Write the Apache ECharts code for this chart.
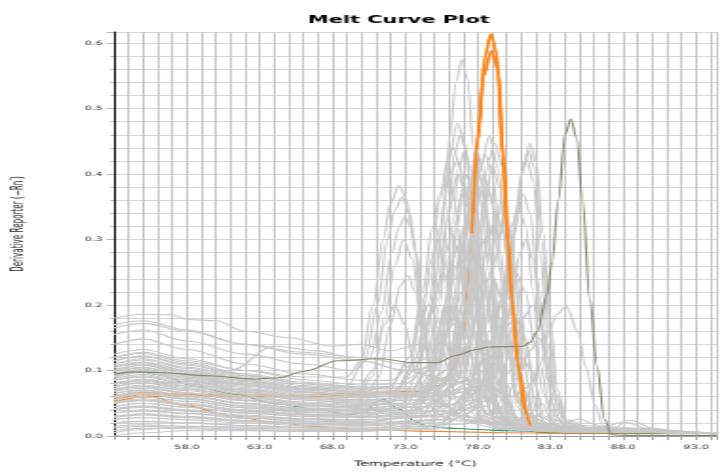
<!DOCTYPE html>
<html>
<head>
<meta charset="utf-8">
<script src="https://cdn.jsdelivr.net/npm/echarts@6.0.0/dist/echarts.min.js"></script>
<style>
  html, body { margin: 0; padding: 0; background: #fff; overflow: hidden; }
  /* the source picture is stretched sideways, so the chart is drawn narrow and widened */
  #chart { width: 380px; height: 473px; transform: scaleX(1.9); transform-origin: 0 0; }
</style>
</head>
<body>
<div id="chart"></div>
<script>
// axis ranges and labels
const tempMin = 53
const tempMax = 94.4
const tempLabelFirst = 58
const tempLabelLast = 93
const derivMax = 0.617

// highlighted wells, [temperature, derivative]
const orangeHigh = [[53,0.058],[55,0.066],[57.5,0.064],[62,0.063],[66,0.062],[70,0.066],[74,0.068],[75.3,0.077],[76,0.092],[76.6,0.122],[77,0.163],[77.3,0.24],[77.6,0.31],[78,0.45],[78.5,0.58],[78.9,0.614],[79.3,0.585],[79.7,0.43],[80,0.31],[80.3,0.214],[80.75,0.112],[81.2,0.041],[81.6,0.016],[82.2,0.006],[85,0.004],[94.4,0.004]]
const orangeMid = [[53,0.052],[55,0.06],[58,0.062],[62,0.06],[66,0.06],[70,0.063],[74,0.065],[75.5,0.075],[76.3,0.1],[76.9,0.15],[77.3,0.22],[77.7,0.34],[78,0.46],[78.4,0.55],[78.95,0.588],[79.4,0.56],[79.8,0.42],[80.1,0.3],[80.4,0.2],[80.85,0.1],[81.3,0.035],[81.7,0.012],[82.5,0.006],[85,0.004],[94.4,0.004]]
const orangeLow = [[53,0.055],[55,0.063],[58,0.046],[61,0.031],[64,0.021],[67,0.014],[70,0.01],[75,0.007],[80,0.005],[85,0.004],[94.4,0.004]]
const greenCurve = [[53,0.095],[55,0.097],[56,0.094],[58.6,0.076],[61,0.065],[64.3,0.049],[67,0.04],[69.3,0.033],[70.2,0.036],[71.1,0.053],[71.5,0.056],[72.6,0.041],[73.8,0.021],[74.5,0.015],[76,0.012],[78,0.01],[80,0.008],[84,0.005],[94.4,0.004]]
const oliveCurve = [[53,0.094],[54.2,0.098],[56.1,0.097],[59.5,0.092],[62.7,0.087],[64.3,0.089],[66.1,0.099],[68.4,0.115],[71.3,0.118],[73.6,0.112],[75.2,0.112],[76.5,0.123],[77.9,0.132],[78.8,0.136],[81.1,0.137],[81.6,0.143],[82.1,0.16],[82.75,0.215],[83.1,0.265],[83.55,0.361],[84,0.46],[84.4,0.484],[84.8,0.455],[85.2,0.361],[85.7,0.209],[86.2,0.107],[86.7,0.026],[87.2,0.002],[88,0.001],[94.4,0.001]]
// temperature window where the orange peaks show above the grey wells
const orangeTopFrom = 77.55
const orangeTopTo = 81.65

// all the other wells
const grayCurves = [
  // peaks near 73
  [[53,0.12],[55,0.128],[58,0.115],[62,0.1],[66,0.09],[69,0.09],[70,0.115],[70.8,0.2],[71.5,0.3],[72,0.355],[72.6,0.383],[73.1,0.362],[73.6,0.3],[74.1,0.2],[74.6,0.11],[75.2,0.06],[76.5,0.035],[79,0.02],[82,0.01],[94.4,0.004]],
  [[53,0.1],[55,0.108],[58,0.095],[62,0.08],[66,0.07],[69,0.075],[70.3,0.12],[71.1,0.2],[71.8,0.3],[72.3,0.345],[72.8,0.365],[73.3,0.34],[73.8,0.28],[74.3,0.18],[74.8,0.1],[75.5,0.05],[77,0.03],[80,0.015],[83,0.008],[94.4,0.004]],
  [[53,0.155],[55,0.162],[58,0.145],[62,0.125],[66,0.11],[69.5,0.1],[70.6,0.12],[71.4,0.19],[72.1,0.28],[72.6,0.32],[73,0.335],[73.4,0.32],[73.7,0.28],[74.3,0.17],[74.9,0.09],[75.6,0.05],[77,0.03],[80,0.018],[83,0.008],[94.4,0.004]],
  [[53,0.085],[55,0.092],[58,0.08],[62,0.066],[66,0.058],[69.5,0.06],[70.8,0.1],[71.6,0.18],[72.3,0.26],[72.9,0.3],[73.5,0.27],[74.1,0.19],[74.7,0.1],[75.4,0.05],[77,0.025],[80,0.012],[94.4,0.004]],
  [[53,0.07],[55,0.076],[58,0.066],[62,0.054],[66,0.046],[70,0.045],[71.2,0.09],[72,0.17],[72.7,0.23],[73.2,0.245],[73.7,0.22],[74.3,0.15],[75,0.07],[75.8,0.035],[78,0.02],[82,0.008],[94.4,0.004]],
  [[53,0.06],[55,0.066],[58,0.058],[62,0.045],[66,0.038],[69.5,0.04],[70.7,0.09],[71.6,0.17],[72.3,0.2],[73,0.17],[73.7,0.1],[74.4,0.05],[76,0.025],[80,0.01],[94.4,0.004]],
  // peaks near 74.5-77.5
  [[53,0.09],[55,0.098],[58,0.086],[62,0.072],[66,0.062],[70,0.058],[72,0.065],[73.5,0.09],[74.5,0.15],[75.2,0.25],[75.7,0.36],[76.1,0.46],[76.5,0.54],[76.9,0.575],[77.3,0.545],[77.7,0.44],[78.1,0.3],[78.5,0.16],[79,0.07],[79.7,0.03],[81,0.015],[84,0.006],[94.4,0.004]],
  [[53,0.11],[55,0.118],[58,0.105],[62,0.09],[66,0.077],[70,0.07],[72.5,0.075],[74,0.11],[74.9,0.2],[75.5,0.31],[76,0.42],[76.6,0.478],[77.1,0.45],[77.6,0.35],[78,0.22],[78.5,0.1],[79.2,0.04],[80.5,0.018],[84,0.007],[94.4,0.004]],
  [[53,0.075],[55,0.082],[58,0.072],[62,0.06],[66,0.05],[70,0.046],[73,0.055],[74.6,0.1],[75.4,0.2],[76,0.35],[76.4,0.43],[76.8,0.46],[77.2,0.435],[77.7,0.32],[78.1,0.19],[78.6,0.08],[79.4,0.03],[81,0.012],[94.4,0.004]],
  [[53,0.095],[55,0.1],[58,0.09],[62,0.078],[66,0.068],[70,0.062],[72.5,0.07],[73.8,0.12],[74.7,0.24],[75.4,0.36],[75.9,0.42],[76.3,0.44],[76.8,0.41],[77.3,0.3],[77.8,0.16],[78.3,0.07],[79,0.03],[81,0.012],[94.4,0.004]],
  [[53,0.045],[55,0.05],[58,0.044],[62,0.035],[66,0.03],[70,0.028],[73,0.035],[74.8,0.08],[75.7,0.2],[76.3,0.33],[76.7,0.41],[77.1,0.435],[77.5,0.41],[78,0.3],[78.5,0.15],[79,0.06],[79.8,0.025],[82,0.008],[94.4,0.004]],
  [[53,0.14],[55,0.148],[58,0.132],[62,0.11],[66,0.095],[70,0.085],[72,0.085],[73.6,0.11],[74.6,0.2],[75.4,0.32],[76.1,0.4],[76.6,0.42],[77.1,0.39],[77.6,0.28],[78.1,0.14],[78.7,0.06],[79.5,0.025],[82,0.01],[94.4,0.004]],
  [[53,0.065],[55,0.07],[58,0.062],[62,0.05],[66,0.042],[70,0.04],[73.5,0.05],[75.2,0.1],[76,0.2],[76.6,0.32],[77,0.385],[77.3,0.4],[77.7,0.37],[78.2,0.26],[78.7,0.13],[79.2,0.055],[80,0.022],[82,0.008],[94.4,0.004]],
  [[53,0.105],[55,0.112],[58,0.1],[62,0.085],[66,0.073],[70,0.068],[72,0.075],[73.3,0.12],[74.2,0.22],[74.9,0.32],[75.4,0.37],[75.9,0.39],[76.4,0.36],[76.9,0.26],[77.4,0.14],[78,0.06],[78.8,0.025],[81,0.01],[94.4,0.004]],
  [[53,0.035],[55,0.04],[58,0.035],[62,0.028],[66,0.022],[70,0.02],[73.5,0.03],[75.2,0.09],[76,0.22],[76.5,0.33],[76.9,0.37],[77.3,0.35],[77.8,0.25],[78.3,0.13],[78.8,0.06],[79.5,0.025],[82,0.008],[94.4,0.004]],
  [[53,0.08],[55,0.087],[58,0.077],[62,0.064],[66,0.055],[70,0.05],[74,0.06],[75.5,0.12],[76.4,0.24],[77,0.32],[77.4,0.34],[77.8,0.31],[78.3,0.2],[78.8,0.09],[79.4,0.035],[81,0.012],[94.4,0.004]],
  [[53,0.055],[55,0.06],[58,0.053],[62,0.043],[66,0.036],[70,0.034],[73,0.045],[74.4,0.1],[75.3,0.21],[75.8,0.28],[76.2,0.31],[76.7,0.28],[77.2,0.19],[77.8,0.09],[78.5,0.035],[80,0.015],[94.4,0.004]],
  [[53,0.125],[55,0.132],[58,0.118],[62,0.1],[66,0.086],[70,0.078],[73,0.08],[74.8,0.11],[75.8,0.19],[76.5,0.26],[77,0.28],[77.5,0.26],[78,0.18],[78.6,0.09],[79.3,0.04],[81,0.015],[94.4,0.004]],
  [[53,0.05],[55,0.055],[58,0.048],[62,0.038],[66,0.032],[70,0.03],[72.5,0.04],[73.8,0.09],[74.8,0.19],[75.6,0.25],[76.3,0.21],[77,0.12],[77.7,0.05],[78.5,0.02],[80,0.01],[94.4,0.004]],
  [[53,0.04],[55,0.044],[58,0.038],[62,0.03],[66,0.025],[70,0.022],[74.5,0.03],[76,0.09],[77,0.18],[77.6,0.22],[78.2,0.19],[78.8,0.11],[79.5,0.045],[80.5,0.018],[83,0.006],[94.4,0.004]],
  [[53,0.09],[55,0.097],[58,0.085],[62,0.07],[66,0.06],[70,0.055],[73.5,0.06],[75,0.1],[75.8,0.16],[76.4,0.18],[77,0.15],[77.7,0.08],[78.5,0.03],[80,0.012],[94.4,0.004]],
  [[53,0.02],[55,0.023],[58,0.02],[62,0.016],[66,0.013],[70,0.012],[74.5,0.02],[76,0.07],[76.8,0.125],[77.2,0.14],[77.7,0.12],[78.4,0.06],[79.2,0.02],[81,0.008],[94.4,0.004]],
  [[53,0],[55,0.005],[58,0.008],[62,0.008],[66,0.007],[70,0.007],[74.5,0.015],[76,0.06],[76.8,0.1],[77.5,0.08],[78.3,0.03],[79.5,0.01],[94.4,0.004]],
  [[53,0.18],[55,0.186],[57,0.185],[58,0.178],[60,0.176],[62,0.16],[65,0.15],[68,0.137],[70,0.14],[72,0.13],[74,0.14],[75.2,0.22],[75.9,0.33],[76.6,0.4],[77.2,0.37],[77.8,0.26],[78.4,0.12],[79.1,0.05],[80,0.02],[82,0.008],[94.4,0.004]],
  [[53,0.165],[55,0.172],[58,0.16],[62,0.14],[66,0.128],[70,0.12],[73,0.11],[75,0.12],[76.2,0.2],[77.2,0.33],[77.9,0.41],[78.4,0.38],[78.9,0.27],[79.4,0.14],[80,0.06],[80.7,0.025],[83,0.008],[94.4,0.004]],
  [[53,0.08],[55,0.085],[58,0.08],[59.2,0.077],[61,0.1],[64,0.137],[67,0.13],[70,0.115],[73,0.1],[75,0.105],[76.3,0.17],[77.1,0.3],[77.7,0.38],[78.2,0.36],[78.8,0.25],[79.4,0.11],[80.1,0.04],[81,0.015],[94.4,0.004]],
  [[53,0.072],[55,0.078],[58,0.069],[62,0.057],[66,0.048],[70,0.044],[72,0.05],[73.3,0.1],[74.3,0.21],[74.8,0.27],[75.2,0.3],[75.7,0.27],[76.3,0.18],[77,0.08],[77.8,0.03],[79.5,0.012],[94.4,0.004]],
  [[53,0.115],[55,0.122],[58,0.108],[62,0.092],[66,0.08],[70,0.073],[72,0.075],[73.3,0.12],[74.1,0.18],[74.6,0.2],[75.2,0.18],[75.9,0.11],[76.6,0.05],[77.5,0.025],[80,0.01],[94.4,0.004]],
  [[53,0.092],[55,0.099],[58,0.088],[62,0.074],[66,0.064],[70,0.058],[73,0.062],[74.8,0.1],[75.8,0.2],[76.3,0.27],[76.6,0.29],[77.1,0.26],[77.7,0.16],[78.3,0.07],[79,0.03],[81,0.01],[94.4,0.004]],
  [[53,0.028],[55,0.032],[58,0.028],[62,0.022],[66,0.018],[70,0.016],[73,0.022],[74.5,0.07],[75.4,0.17],[75.9,0.21],[76.5,0.18],[77.2,0.09],[78,0.03],[79.5,0.01],[94.4,0.004]],
  [[53,0.062],[55,0.068],[58,0.06],[62,0.049],[66,0.041],[70,0.038],[73.5,0.045],[75.2,0.09],[76.2,0.18],[76.9,0.22],[77.5,0.19],[78.2,0.1],[78.9,0.04],[80,0.015],[94.4,0.004]],
  [[53,0.085],[55,0.09],[58,0.081],[62,0.068],[66,0.058],[70,0.053],[74,0.055],[75.8,0.09],[76.5,0.14],[77,0.16],[77.6,0.14],[78.3,0.08],[79,0.035],[80.5,0.012],[94.4,0.004]],
  // peaks near 77.5-80
  [[53,0.075],[55,0.081],[58,0.071],[62,0.059],[66,0.05],[70,0.046],[74,0.05],[75.8,0.1],[76.9,0.2],[77.4,0.27],[77.8,0.3],[78.3,0.27],[78.9,0.17],[79.5,0.08],[80.2,0.03],[82,0.01],[94.4,0.004]],
  [[53,0.098],[55,0.104],[58,0.092],[62,0.078],[66,0.067],[70,0.061],[74,0.062],[76,0.09],[77.2,0.18],[77.7,0.23],[78.1,0.26],[78.6,0.23],[79.2,0.14],[79.9,0.06],[80.6,0.025],[83,0.008],[94.4,0.004]],
  [[53,0.058],[55,0.064],[58,0.056],[62,0.046],[66,0.039],[70,0.036],[74,0.04],[76,0.08],[77,0.2],[77.6,0.32],[78.1,0.38],[78.6,0.35],[79.1,0.24],[79.6,0.12],[80.2,0.045],[81,0.015],[94.4,0.004]],
  [[53,0.052],[55,0.057],[58,0.05],[62,0.04],[66,0.034],[70,0.032],[73.5,0.038],[75.5,0.09],[76.6,0.22],[77.2,0.32],[77.6,0.35],[78.1,0.32],[78.7,0.2],[79.3,0.09],[80,0.035],[81.5,0.012],[94.4,0.004]],
  [[53,0.04],[55,0.045],[58,0.039],[62,0.031],[66,0.026],[70,0.024],[74,0.03],[76,0.09],[77,0.26],[77.5,0.39],[77.9,0.44],[78.3,0.41],[78.8,0.28],[79.3,0.14],[79.9,0.05],[80.8,0.015],[94.4,0.004]],
  [[53,0.078],[55,0.084],[58,0.074],[62,0.061],[66,0.052],[70,0.048],[74,0.05],[76.2,0.09],[77.2,0.2],[77.9,0.34],[78.4,0.4],[78.9,0.37],[79.5,0.25],[80.1,0.12],[80.7,0.045],[81.5,0.015],[94.4,0.004]],
  [[53,0.1],[55,0.105],[58,0.093],[62,0.078],[66,0.067],[70,0.062],[74,0.065],[75.8,0.09],[76.8,0.16],[77.5,0.28],[78.1,0.4],[78.8,0.458],[79.4,0.41],[79.9,0.3],[80.4,0.17],[80.9,0.08],[81.5,0.035],[83,0.012],[94.4,0.004]],
  [[53,0.06],[55,0.065],[58,0.057],[62,0.046],[66,0.04],[70,0.038],[74.5,0.045],[76.5,0.08],[77.5,0.18],[78.2,0.32],[78.7,0.42],[79.2,0.447],[79.7,0.41],[80.2,0.3],[80.7,0.16],[81.2,0.07],[81.9,0.025],[84,0.008],[94.4,0.004]],
  [[53,0.115],[55,0.122],[58,0.11],[62,0.093],[66,0.08],[70,0.072],[74,0.072],[75.8,0.1],[76.7,0.18],[77.4,0.3],[78,0.4],[78.5,0.43],[79,0.4],[79.6,0.28],[80.1,0.15],[80.6,0.07],[81.3,0.03],[83,0.01],[94.4,0.004]],
  [[53,0.03],[55,0.034],[58,0.03],[62,0.024],[66,0.02],[70,0.018],[75,0.025],[76.8,0.07],[77.7,0.18],[78.4,0.33],[79,0.415],[79.5,0.38],[80,0.27],[80.5,0.14],[81,0.06],[81.7,0.022],[84,0.006],[94.4,0.004]],
  [[53,0.085],[55,0.09],[58,0.08],[62,0.067],[66,0.057],[70,0.052],[74.5,0.055],[76.3,0.09],[77.3,0.19],[78,0.31],[78.6,0.38],[79.1,0.35],[79.7,0.24],[80.2,0.12],[80.8,0.05],[81.5,0.02],[84,0.006],[94.4,0.004]],
  [[53,0.07],[55,0.075],[58,0.066],[62,0.055],[66,0.047],[70,0.043],[75,0.05],[77,0.09],[78,0.19],[78.7,0.3],[79.3,0.34],[79.8,0.31],[80.3,0.21],[80.8,0.11],[81.4,0.045],[82.2,0.018],[85,0.006],[94.4,0.004]],
  [[53,0.05],[55,0.054],[58,0.047],[62,0.038],[66,0.032],[70,0.03],[74.5,0.035],[76.3,0.08],[77.2,0.17],[77.8,0.26],[78.3,0.3],[78.8,0.27],[79.4,0.17],[80,0.08],[80.6,0.03],[82,0.01],[94.4,0.004]],
  [[53,0.11],[55,0.116],[58,0.103],[62,0.087],[66,0.075],[70,0.068],[75,0.07],[77,0.1],[78.1,0.19],[78.9,0.25],[79.5,0.22],[80.1,0.14],[80.7,0.06],[81.4,0.025],[83,0.01],[94.4,0.004]],
  [[53,0.025],[55,0.028],[58,0.025],[62,0.02],[66,0.016],[70,0.015],[76,0.025],[77.8,0.08],[78.8,0.16],[79.5,0.2],[80.1,0.17],[80.7,0.09],[81.4,0.035],[82.3,0.012],[94.4,0.004]],
  [[53,0.015],[55,0.017],[58,0.015],[62,0.012],[66,0.01],[70,0.01],[75.5,0.02],[77.3,0.07],[78.1,0.13],[78.6,0.15],[79.2,0.12],[79.9,0.06],[80.6,0.02],[82,0.008],[94.4,0.004]],
  [[53,0.03],[55,0.033],[58,0.029],[62,0.023],[66,0.019],[70,0.017],[75.5,0.025],[77.5,0.07],[78.5,0.18],[79.1,0.24],[79.6,0.21],[80.2,0.12],[80.8,0.05],[81.5,0.018],[94.4,0.004]],
  [[53,0.008],[55,0.012],[58,0.011],[62,0.009],[66,0.008],[70,0.008],[75,0.012],[77,0.05],[78,0.105],[78.4,0.12],[79,0.1],[79.8,0.045],[80.6,0.015],[94.4,0.003]],
  [[53,0.088],[55,0.094],[58,0.083],[62,0.07],[66,0.06],[70,0.055],[75,0.055],[77.5,0.08],[78.6,0.17],[79.3,0.28],[79.8,0.33],[80.3,0.3],[80.9,0.19],[81.5,0.08],[82.2,0.03],[84,0.008],[94.4,0.004]],
  [[53,0.042],[55,0.046],[58,0.04],[62,0.032],[66,0.027],[70,0.025],[76,0.03],[78.2,0.07],[79.3,0.17],[79.8,0.24],[80.2,0.27],[80.7,0.24],[81.3,0.15],[81.9,0.06],[82.6,0.02],[85,0.006],[94.4,0.004]],
  [[53,0.107],[55,0.113],[58,0.1],[62,0.085],[66,0.073],[70,0.066],[75,0.066],[77.5,0.085],[78.6,0.18],[79.2,0.3],[79.6,0.36],[80.1,0.33],[80.6,0.22],[81.2,0.1],[81.8,0.04],[83,0.012],[94.4,0.004]],
  [[53,0.068],[55,0.073],[58,0.065],[62,0.054],[66,0.046],[70,0.042],[76,0.045],[78.3,0.08],[79.3,0.14],[79.9,0.16],[80.5,0.13],[81.2,0.07],[82,0.025],[84,0.008],[94.4,0.004]],
  // peaks near 80.5-82
  [[53,0.095],[55,0.102],[58,0.09],[62,0.076],[66,0.066],[70,0.06],[75,0.06],[78,0.07],[79.3,0.11],[80.1,0.22],[80.7,0.34],[81.2,0.42],[81.6,0.447],[82,0.42],[82.5,0.31],[83,0.17],[83.5,0.07],[84.1,0.025],[86,0.008],[94.4,0.004]],
  [[53,0.065],[55,0.07],[58,0.062],[62,0.05],[66,0.043],[70,0.04],[75,0.045],[78,0.055],[79.3,0.1],[80.1,0.21],[80.7,0.33],[81.1,0.41],[81.5,0.435],[81.9,0.41],[82.4,0.3],[82.9,0.16],[83.4,0.065],[84,0.022],[86,0.007],[94.4,0.004]],
  [[53,0.105],[55,0.11],[58,0.098],[62,0.083],[66,0.072],[70,0.066],[75,0.065],[78,0.075],[79.2,0.11],[80,0.22],[80.6,0.34],[81,0.4],[81.4,0.422],[81.8,0.39],[82.3,0.28],[82.8,0.14],[83.3,0.055],[84,0.02],[86,0.007],[94.4,0.004]],
  [[53,0.045],[55,0.05],[58,0.044],[62,0.036],[66,0.03],[70,0.028],[75,0.032],[78,0.045],[79.1,0.09],[79.9,0.2],[80.5,0.31],[81.1,0.37],[81.6,0.34],[82.1,0.24],[82.6,0.12],[83.1,0.05],[83.8,0.018],[86,0.006],[94.4,0.004]],
  [[53,0.08],[55,0.086],[58,0.076],[62,0.064],[66,0.055],[70,0.05],[75,0.05],[77.8,0.065],[78.9,0.11],[79.7,0.22],[80.3,0.32],[80.8,0.35],[81.3,0.32],[81.8,0.22],[82.3,0.11],[82.9,0.045],[83.6,0.016],[86,0.006],[94.4,0.004]],
  [[53,0.035],[55,0.038],[58,0.034],[62,0.027],[66,0.023],[70,0.021],[76,0.025],[78.5,0.045],[79.6,0.11],[80.4,0.22],[80.9,0.28],[81.3,0.3],[81.8,0.27],[82.3,0.18],[82.8,0.085],[83.4,0.03],[84.2,0.01],[94.4,0.004]],
  [[53,0.12],[55,0.126],[58,0.112],[62,0.095],[66,0.082],[70,0.075],[75,0.075],[77.5,0.085],[78.8,0.13],[79.7,0.21],[80.6,0.25],[81.3,0.22],[81.9,0.14],[82.5,0.065],[83.2,0.025],[85,0.008],[94.4,0.004]],
  [[53,0.102],[55,0.108],[58,0.096],[62,0.081],[66,0.07],[70,0.064],[75,0.062],[78,0.07],[79.3,0.12],[80.1,0.17],[80.6,0.18],[81.2,0.15],[81.9,0.08],[82.6,0.03],[84,0.01],[94.4,0.004]],
  [[53,0.055],[55,0.06],[58,0.053],[62,0.043],[66,0.037],[70,0.034],[76,0.038],[79,0.06],[80.2,0.12],[81.1,0.18],[81.8,0.2],[82.4,0.17],[83,0.09],[83.6,0.035],[84.5,0.012],[94.4,0.004]],
  [[53,0.05],[55,0.055],[58,0.048],[62,0.039],[66,0.033],[70,0.03],[76,0.032],[79,0.055],[80.3,0.1],[81,0.12],[81.7,0.1],[82.4,0.05],[83.2,0.018],[85,0.006],[94.4,0.004]],
  [[53,0.02],[55,0.022],[58,0.02],[62,0.016],[66,0.014],[70,0.012],[77,0.018],[79.5,0.04],[80.8,0.09],[81.6,0.13],[82.2,0.15],[82.8,0.12],[83.4,0.06],[84.1,0.02],[85.5,0.006],[94.4,0.004]],
  // lone peak near 84 and the low wells
  [[53,0.17],[55,0.176],[58,0.162],[62,0.14],[66,0.125],[70,0.115],[73,0.1],[76,0.085],[79,0.07],[80.5,0.06],[81.5,0.075],[82.3,0.11],[82.95,0.163],[83.4,0.185],[84.1,0.198],[84.9,0.158],[85.4,0.107],[86.1,0.046],[86.6,0.016],[87.5,0.006],[94.4,0.004]],
  [[53,0.005],[55,0.01],[58,0.015],[62,0.014],[66,0.012],[70,0.01],[74,0.012],[76,0.02],[77.5,0.05],[78.3,0.07],[79,0.05],[80,0.02],[82,0.008],[86,0.01],[88.5,0.024],[90,0.012],[92,0.006],[94.4,0.004]],
  [[53,0.012],[55,0.015],[58,0.013],[62,0.01],[66,0.009],[70,0.008],[75,0.01],[77,0.03],[78,0.045],[79,0.03],[80.5,0.012],[83,0.01],[85,0.026],[86,0.018],[87,0.008],[88.2,0.021],[89.5,0.012],[91,0.006],[94.4,0.003]]
]

function curve(data, color, width) {
  return {
    type: 'line',
    data: data,
    symbol: 'none',
    showSymbol: false,
    smooth: 0.35,
    smoothMonotone: 'x',
    silent: true,
    lineStyle: { color: color, width: width },
  }
}

const peakPart = (c) => c.filter((p) => p[0] >= orangeTopFrom && p[0] <= orangeTopTo)

const series = [
  curve(orangeLow, '#f0893a', 1.2),
  curve(orangeMid, '#ff8516', 1.4),
  curve(orangeHigh, '#ff8516', 1.4),
  curve(greenCurve, '#2f9c6c', 1.1),
]
grayCurves.forEach((c) => series.push(curve(c, '#c8c8c8', 1.1)))
series.push(curve(peakPart(orangeMid), '#ff8516', 1.4))
series.push(curve(peakPart(orangeHigh), '#ff8516', 1.4))
series.push(curve(oliveCurve, '#8a8a74', 1.1))

const isLabelTemp = (v) => {
  const k = (v - tempLabelFirst) / 5
  return v >= tempLabelFirst - 1e-6 && v <= tempLabelLast + 1e-6 && Math.abs(k - Math.round(k)) < 1e-6
}
const isLabelDeriv = (v) => {
  const k = v / 0.1
  return v <= 0.6 + 1e-6 && Math.abs(k - Math.round(k)) < 1e-6
}

const chart = echarts.init(document.getElementById('chart'))
chart.setOption({
  animation: false,
  backgroundColor: '#fff',
  title: {
    text: 'Melt Curve Plot',
    left: 157,
    top: 10,
    textStyle: { fontFamily: 'DejaVu Sans', fontWeight: 'bold', fontSize: 11, color: '#000' },
  },
  grid: { left: 60, right: 0, top: 32, bottom: 36 },
  xAxis: [
    {
      type: 'value',
      min: tempMin,
      max: tempMax,
      interval: 1,
      name: 'Temperature (°C)',
      nameLocation: 'middle',
      nameGap: 24,
      nameTextStyle: { fontFamily: 'DejaVu Sans', fontSize: 7.5, color: '#222' },
      axisLine: { show: true, lineStyle: { color: '#999', width: 1 } },
      axisTick: { show: true, length: 4, lineStyle: { color: '#aaa' } },
      axisLabel: {
        margin: 8,
        fontFamily: 'DejaVu Sans',
        fontSize: 6,
        color: '#333',
        showMinLabel: true,
        showMaxLabel: true,
        formatter: (v) => (isLabelTemp(v) ? v.toFixed(1) : ''),
      },
      splitLine: { show: true, lineStyle: { color: '#c4c4c4', width: 1 } },
    },
    {
      type: 'value',
      position: 'top',
      min: tempMin,
      max: tempMax,
      axisLine: { show: true, lineStyle: { color: '#999', width: 1 } },
      axisTick: { show: false },
      axisLabel: { show: false },
      splitLine: { show: false },
    },
  ],
  yAxis: [
    {
      type: 'value',
      min: 0,
      max: derivMax,
      interval: 0.02,
      axisLine: { show: false },
      axisTick: { show: true, length: 2, lineStyle: { color: '#bbb' } },
      axisLabel: { show: false },
      splitLine: { show: true, lineStyle: { color: '#d6d6d6', width: 1 } },
    },
    {
      type: 'value',
      position: 'left',
      min: 0,
      max: derivMax,
      interval: 0.1,
      axisLine: { show: true, lineStyle: { color: '#000', width: 1 } },
      axisTick: { show: true, length: 4, lineStyle: { color: '#bbb' } },
      axisLabel: {
        margin: 6,
        fontFamily: 'DejaVu Sans',
        fontSize: 6,
        color: '#333',
        formatter: (v) => (isLabelDeriv(v) ? v.toFixed(1) : ''),
      },
      splitLine: { show: false },
    },
  ],
  graphic: [
    {
      type: 'text',
      x: 10,
      y: 224,
      rotation: Math.PI / 2,
      silent: true,
      style: {
        text: 'Derivative Reporter (\u2212Rn\u2032)',
        fontFamily: '"DejaVu Sans Condensed", "Liberation Sans Narrow", "DejaVu Sans"',
        fontSize: 8,
        fill: '#222',
        align: 'center',
        verticalAlign: 'middle',
        textAlign: 'center',
        textVerticalAlign: 'middle',
      },
    },
  ],
  series: series,
})
</script>
</body>
</html>
